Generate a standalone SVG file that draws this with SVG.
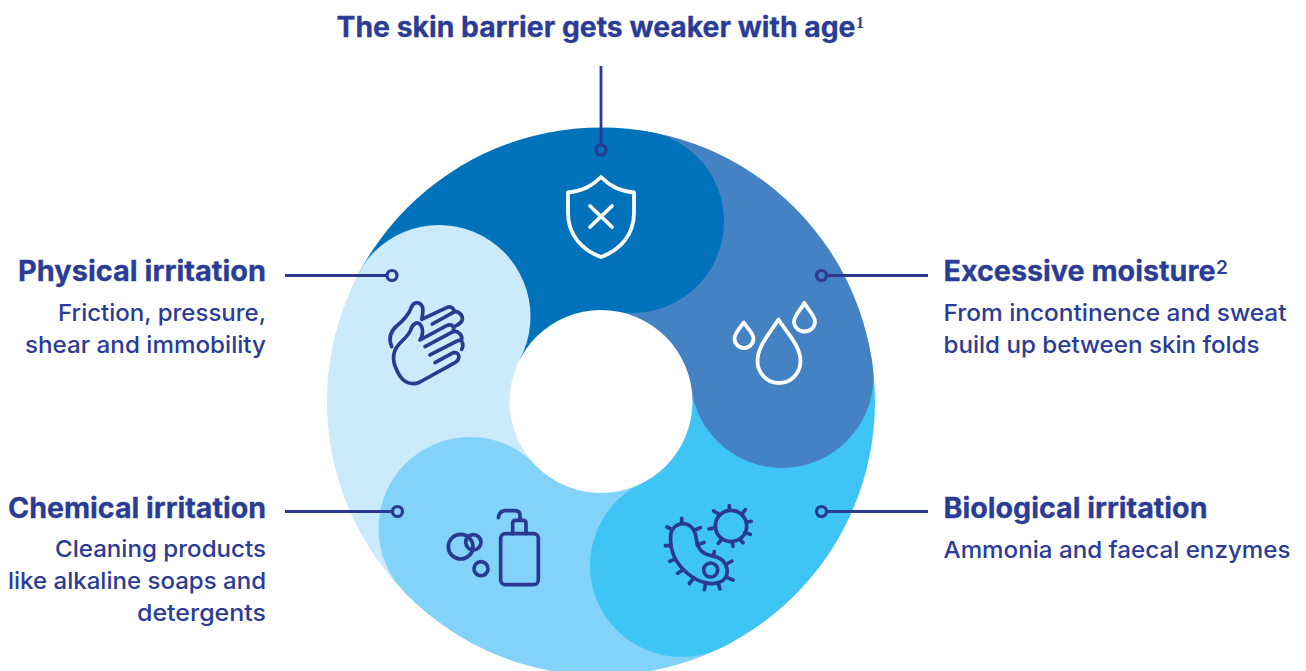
<svg xmlns="http://www.w3.org/2000/svg" width="1306" height="671" viewBox="0 0 1306 671">
<style>
text{font-family:"Inter","Liberation Sans",sans-serif;fill:#2a3c96}
.h{font-size:28px;font-weight:700;stroke:#2a3c96;stroke-width:.3}
.b{font-size:23.5px;font-weight:500}
.r{text-anchor:end}
.con{fill:none;stroke:#2b3990;stroke-width:2.8}
.dot{fill:none;stroke:#2b3990;stroke-width:3.2}
.iw{fill:none;stroke:#fff;stroke-width:3.8;stroke-linecap:round;stroke-linejoin:round}
.ib{fill:none;stroke:#2b3990;stroke-width:11;stroke-linecap:round;stroke-linejoin:round}
</style>
<defs><clipPath id="ring"><circle cx="601" cy="401.500" r="274"/></clipPath></defs>
<rect width="1306" height="671" fill="#fff"/>
<g id="wheel" clip-path="url(#ring)">
<path fill="#0072bc" d="M601 401.500L66 124.500L705 -193Z"/>
<path fill="#4482c3" d="M601 401.500L705 -193L1198 319.500Z"/>
<path fill="#3fc5f5" d="M601 401.500L1198 319.500L867 942Z"/>
<path fill="#82d2f9" d="M601 401.500L867 942L169 820.500Z"/>
<path fill="#cbeafb" d="M601 401.500L169 820.500L66 124.500Z"/>
<circle cx="632.5" cy="221.500" r="91.5" fill="#0072bc"/>
<circle cx="782" cy="376.500" r="91.5" fill="#4482c3"/>
<circle cx="681.5" cy="565.500" r="91.5" fill="#3fc5f5"/>
<circle cx="470" cy="528.500" r="91.5" fill="#82d2f9"/>
<circle cx="439" cy="316.500" r="91.5" fill="#cbeafb"/>
<circle cx="601" cy="401.500" r="91.500" fill="#fff"/>
</g>
<g id="connectors">
<path class="con" d="M601 66V144M285 275.500H386M828 275.500H928M285 511.500H391M828 511.500H928"/>
<circle class="dot" cx="601" cy="150" r="5"/>
<circle class="dot" cx="392" cy="275.500" r="5"/>
<circle class="dot" cx="821.500" cy="275.500" r="5"/>
<circle class="dot" cx="397.500" cy="511.500" r="5"/>
<circle class="dot" cx="821.500" cy="511.500" r="5"/>
</g>
<g id="node-barrier">
<text class="h" x="336.500" y="37" textLength="519" lengthAdjust="spacingAndGlyphs">The skin barrier gets weaker with age</text>
<text x="856" y="28" font-size="16" font-weight="700" style="font-family:'Liberation Serif',serif">1</text>
<path class="iw" d="M601 177C592 186 583 191 568 192.500V213C568 235 582 250 601 257C620 250 634 235 634 213V192.500C619 191 610 186 601 177Z"/>
<path class="iw" d="M590 206L612 227M612 206L590 227"/>
</g>
<g id="node-physical">
<text class="h r" x="266" y="281" textLength="248" lengthAdjust="spacingAndGlyphs">Physical irritation</text>
<text class="b r" x="266" y="320.500" textLength="208" lengthAdjust="spacingAndGlyphs">Friction, pressure,</text>
<text class="b r" x="266" y="352.500" textLength="241" lengthAdjust="spacingAndGlyphs">shear and immobility</text>
<g transform="translate(370 260) scale(.3333)">
<path class="ib" d="M65 260C55 235 60 215 80 198C105 178 118 160 125 140C132 124 150 125 157 140C161 152 158 165 155 178L230 143C245 135 255 150 250 157C262 150 282 165 276 182C272 190 265 194 258 197M250 157L187 192"/>
<path class="ib" d="M150 240C160 225 160 205 152 195C142 183 128 190 122 210C115 230 95 240 80 262C65 285 68 310 85 340C100 368 125 378 150 366L255 308C272 298 270 275 250 278L195 308M180 285L262 243C278 235 282 255 275 268M165 260L245 217C262 208 278 225 275 240M150 240L230 197C245 190 255 200 250 210"/>
</g>
</g>
<g id="node-moisture">
<text class="h" x="943.500" y="281" textLength="272" lengthAdjust="spacingAndGlyphs">Excessive moisture</text>
<text x="1216" y="274" font-size="19" font-weight="600">2</text>
<text class="b" x="943.500" y="320.500" textLength="343" lengthAdjust="spacingAndGlyphs">From incontinence and sweat</text>
<text class="b" x="943.500" y="352.500" textLength="316" lengthAdjust="spacingAndGlyphs">build up between skin folds</text>
<path class="iw" d="M778.500 319.500C770 333 757.500 346 757.500 361A21.500 22 0 0 0 800.500 361C800.500 346 787 333 778.500 319.500Z"/>
<path class="iw" d="M743.700 322.500C739.500 329 734.500 333 734.500 338.500A9.500 9.500 0 0 0 753.500 338.500C753.500 333 748 329 743.700 322.500Z"/>
<path class="iw" d="M804.300 303C800 311 794 316 794 321.500A10.500 10 0 0 0 815 321.500C815 316 809 311 804.300 303Z"/>
</g>
<g id="node-biological">
<text class="h" x="943.500" y="518" textLength="264" lengthAdjust="spacingAndGlyphs">Biological irritation</text>
<text class="b" x="943.500" y="557.500" textLength="347" lengthAdjust="spacingAndGlyphs">Ammonia and faecal enzymes</text>
<g transform="translate(640 490) scale(.3333)">
<path class="ib" d="M92 135C95 105 135 85 160 118C172 135 165 155 178 175C190 195 210 195 235 203C255 212 266 235 260 255C252 278 225 285 195 278C160 270 125 240 105 205C95 185 90 160 92 135Z"/>
<path class="ib" d="M125 97V85M95 118L81 111M165 120L181 113M172 165L192 157M92 167H76M105 207L89 214M128 240L113 250M160 265L148 281M197 280L193 299M235 280L240 297M262 263L279 270M260 222L276 213M220 198L223 185"/>
<circle class="ib" cx="212" cy="240" r="21"/>
<circle class="ib" cx="273" cy="108" r="47"/>
<path class="ib" d="M268 60V47M236 72L221 63M306 72L316 59M320 97L334 94M316 127L331 133M300 148L309 158M277 155L279 169M246 147L235 160M227 113L207 117"/>
</g>
</g>
<g id="node-chemical">
<text class="h r" x="266" y="518" textLength="258" lengthAdjust="spacingAndGlyphs">Chemical irritation</text>
<text class="b r" x="266" y="556.500" textLength="211" lengthAdjust="spacingAndGlyphs">Cleaning products</text>
<text class="b r" x="266" y="588.500" textLength="258" lengthAdjust="spacingAndGlyphs">like alkaline soaps and</text>
<text class="b r" x="266" y="620.500" textLength="129" lengthAdjust="spacingAndGlyphs">detergents</text>
<g transform="translate(430 495) scale(.3333)">
<rect class="ib" x="212" y="116" width="113" height="153" rx="14"/>
<path class="ib" d="M248 116V85Q248 76 257 76H279Q288 76 288 85V116M205 68Q208 48 225 47H255Q270 47 270 62V76"/>
<circle class="ib" cx="92" cy="155" r="37"/>
<circle class="ib" cx="130" cy="142" r="23"/>
<circle class="ib" cx="153" cy="221" r="21"/>
</g>
</g>
</svg>
